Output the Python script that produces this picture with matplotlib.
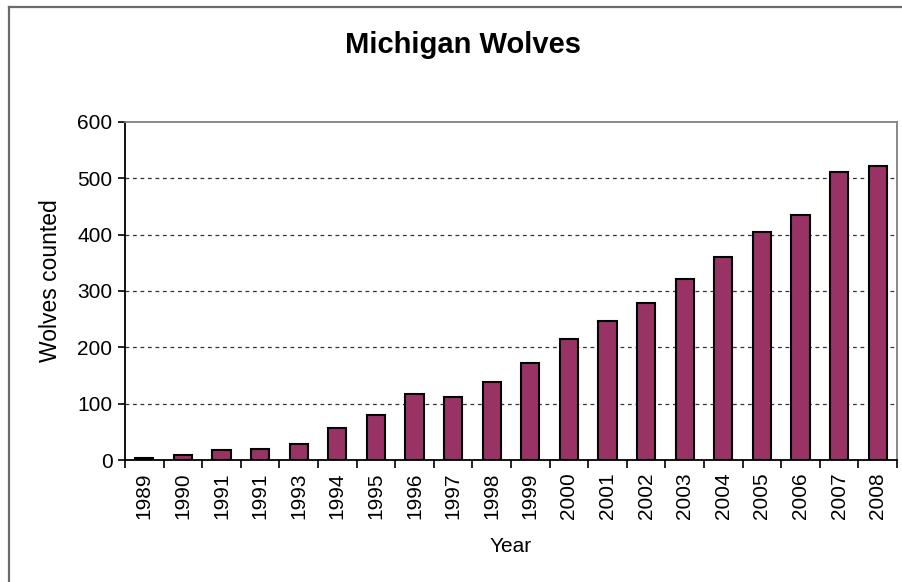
import matplotlib
matplotlib.use("Agg")
import matplotlib.pyplot as plt
from matplotlib.lines import Line2D

plt.rcParams['font.family'] = ['Liberation Sans', 'DejaVu Sans']

# year labels as printed on the original chart (1991 appears twice)
years = ["1989", "1990", "1991", "1991", "1993", "1994", "1995", "1996", "1997", "1998",
         "1999", "2000", "2001", "2002", "2003", "2004", "2005", "2006", "2007", "2008"]
wolves = [3, 9, 17, 20, 29, 56, 79, 117, 112, 138,
          172, 214, 247, 279, 322, 361, 404, 435, 511, 522]
y_ticks = [0, 100, 200, 300, 400, 500, 600]

fig = plt.figure(figsize=(9.02, 5.82), dpi=100)
ax = fig.add_axes([125 / 902, 1 - 460 / 582, 772 / 902, 338 / 582])

x = list(range(len(years)))
ax.bar(x, wolves, width=0.476, color="#993366", edgecolor="black", linewidth=1.5, zorder=3)

ax.set_xlim(-0.5, len(years) - 0.5)
ax.set_ylim(0, 600)
ax.set_yticks(y_ticks)
ax.set_yticklabels([str(v) for v in y_ticks], fontsize=15)

# labels at the bar centres, tick marks between categories
ax.set_xticks(x)
ax.set_xticklabels(years, rotation=90, fontsize=15)
ax.set_xticks([i - 0.5 for i in range(len(years) + 1)], minor=True)
ax.tick_params(axis="x", which="major", length=0, pad=9)
ax.tick_params(axis="x", which="minor", length=6, width=1.2, color="black", direction="out")
ax.tick_params(axis="y", length=5, width=1.2, color="black", direction="out", pad=4)

# dashed gridlines
for v in y_ticks[1:-1]:
    ax.axhline(v, color="#333333", linestyle=(0, (3, 3)), linewidth=0.9, zorder=1)

ax.spines["left"].set_color("black")
ax.spines["bottom"].set_color("black")
ax.spines["left"].set_linewidth(1.3)
ax.spines["bottom"].set_linewidth(1.3)
ax.spines["top"].set_color("#808080")
ax.spines["right"].set_color("#808080")
ax.spines["top"].set_linewidth(1.3)
ax.spines["right"].set_linewidth(1.3)

ax.set_ylabel("Wolves counted", fontsize=16.5)
ax.yaxis.set_label_coords(-0.082, 0.53)
ax.set_xlabel("Year", fontsize=15)
ax.xaxis.set_label_coords(0.5, -0.228)

fig.text(463 / 902, 1 - 45 / 582, "Michigan Wolves", fontsize=21, fontweight="bold",
         ha="center", va="center")

# outer chart frame (left and top edges visible)
fig.add_artist(Line2D([9 / 902, 9 / 902], [0, 1 - 7 / 582], transform=fig.transFigure,
                      color="#6b6b6b", linewidth=1.6))
fig.add_artist(Line2D([9 / 902, 1], [1 - 7 / 582, 1 - 7 / 582], transform=fig.transFigure,
                      color="#6b6b6b", linewidth=1.6))

fig.savefig("out.png", dpi=100)
